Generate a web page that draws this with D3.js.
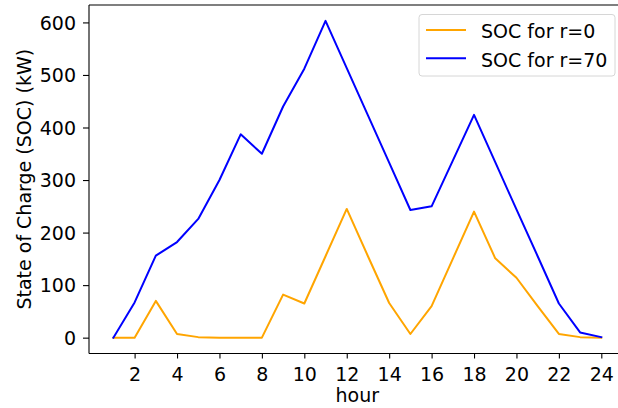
<!DOCTYPE html>
<html><head><meta charset="utf-8">
<script src="https://cdn.jsdelivr.net/npm/d3@7"></script>
<style>
html,body{margin:0;padding:0;background:#fff;}
svg text{font-family:"DejaVu Sans",sans-serif;fill:#000;}
</style></head>
<body><svg id="chart" width="618" height="408"></svg>
<script>
const hours = [1,2,3,4,5,6,7,8,9,10,11,12,13,14,15,16,17,18,19,20,21,22,23,24];
const socR0 = [0,0,70,7,1,0,0,0,82,65,155,245,155,66,7,60,150,240,151,114,60,7,1,0];
const socR70 = [0,67,156,182,226,300,387,350,440,512,603,513,423,333,243,250,337,424,334,244,155,65,10,1];
const xTicks = [2,4,6,8,10,12,14,16,18,20,22,24];
const yTicks = [0,100,200,300,400,500,600];
const seriesNames = ["SOC for r=0","SOC for r=70"];
const seriesColors = ["orange","blue"];

const svg = d3.select("#chart");
const x = d3.scaleLinear().domain([-0.15, 25.15]).range([89, 625.7]);
const y = d3.scaleLinear().domain([-30.15, 633.15]).range([353.5, 5]);
const fs = 19;

// axes
const gx = svg.append("g").attr("transform", `translate(0,${y.range()[0]})`)
  .call(d3.axisBottom(x).tickValues(xTicks).tickSize(5).tickPadding(5).tickFormat(d3.format("d")));
const gy = svg.append("g").attr("transform", `translate(${x.range()[0]},0)`)
  .call(d3.axisLeft(y).tickValues(yTicks).tickSize(6).tickPadding(7).tickFormat(d3.format("d")));
[gx, gy].forEach(g => {
  g.selectAll("text").style("font-size", fs + "px").attr("fill", "#000");
  g.selectAll(".tick line").attr("stroke", "#000").attr("stroke-width", 1.1);
  g.select(".domain").remove();
});
gx.selectAll("text").attr("y", 27).attr("dy", 0);
gy.selectAll("text").attr("dy", "0.36em");
// spines
const sp = svg.append("g").attr("fill","none").attr("stroke","#000").attr("stroke-width",1.1);
sp.append("line").attr("x1", x.range()[0]).attr("x2", x.range()[0]).attr("y1", y.range()[1]).attr("y2", y.range()[0]);
sp.append("line").attr("x1", x.range()[0]).attr("x2", x.range()[1]).attr("y1", y.range()[0]).attr("y2", y.range()[0]);
sp.append("line").attr("x1", x.range()[0]).attr("x2", x.range()[1]).attr("y1", y.range()[1]).attr("y2", y.range()[1]);
sp.append("line").attr("x1", x.range()[1]).attr("x2", x.range()[1]).attr("y1", y.range()[1]).attr("y2", y.range()[0]);

// lines
const line = d3.line().x((d,i) => x(hours[i])).y(d => y(d));
[socR0, socR70].forEach((s, k) => {
  svg.append("path").datum(s).attr("d", line).attr("fill","none")
    .attr("stroke", seriesColors[k]).attr("stroke-width", 2).attr("stroke-linejoin","round").attr("stroke-linecap","square");
});

// labels
svg.append("text").attr("x", (x.range()[0]+x.range()[1])/2).attr("y", 402)
  .attr("text-anchor","middle").style("font-size", fs + "px").text("hour");
svg.append("text").attr("transform", `translate(30.5,${(y.range()[0]+y.range()[1])/2}) rotate(-90)`)
  .attr("text-anchor","middle").style("font-size", fs + "px").text("State of Charge (SOC) (kW)");

// legend
const lg = svg.append("g");
lg.append("rect").attr("x", 419).attr("y", 14.5).attr("width", 196).attr("height", 61.5)
  .attr("rx", 3).attr("fill", "rgba(255,255,255,0.8)").attr("stroke", "#d6d6d6").attr("stroke-width", 1);
seriesNames.forEach((n, k) => {
  const yy = 30 + k * 28.3;
  lg.append("line").attr("x1", 426).attr("x2", 466).attr("y1", yy).attr("y2", yy)
    .attr("stroke", seriesColors[k]).attr("stroke-width", 2);
  lg.append("text").attr("x", 481).attr("y", yy + 8.4).style("font-size", fs + "px").text(n);
});
</script></body></html>
